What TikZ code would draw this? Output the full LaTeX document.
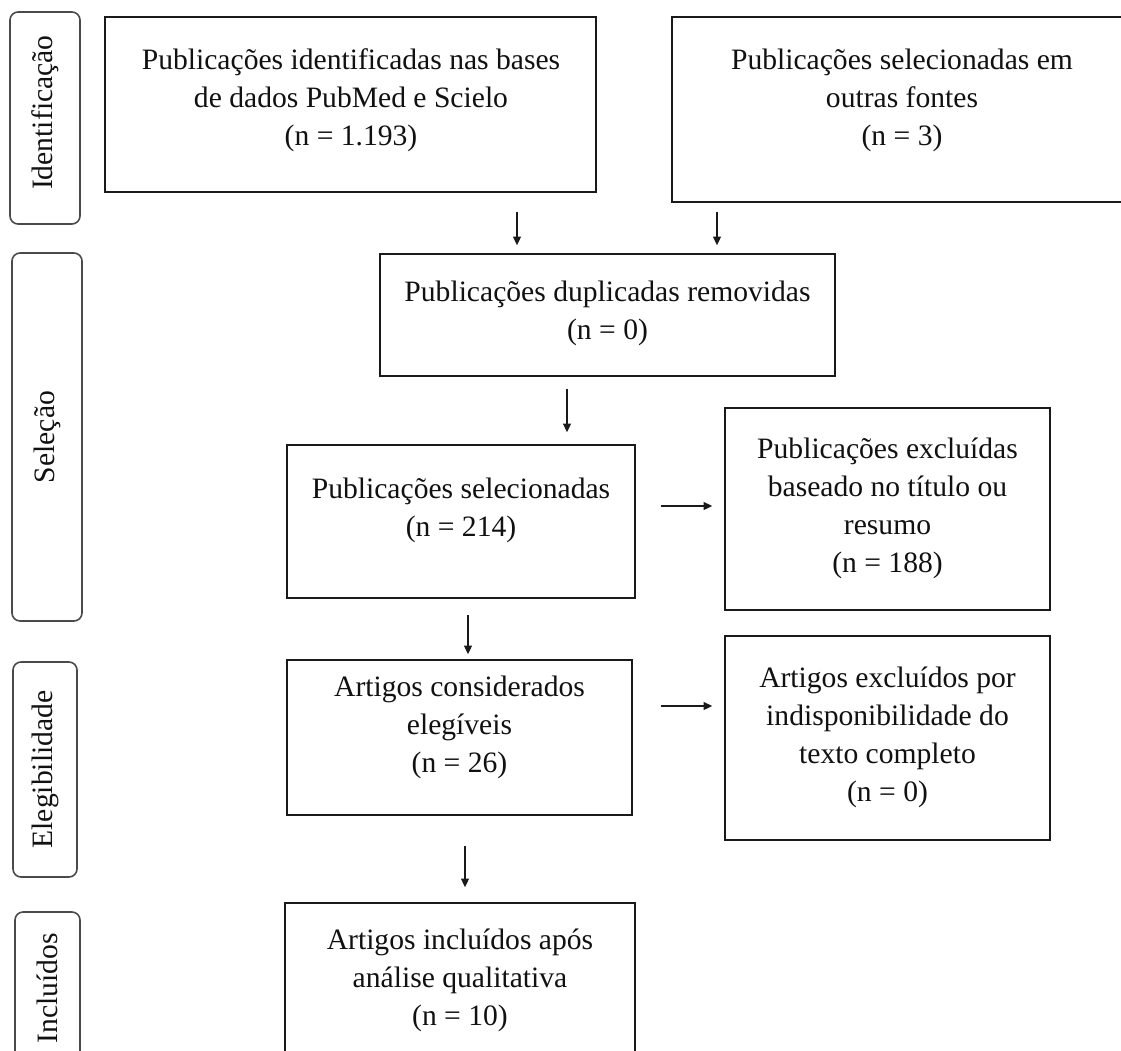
\documentclass[tikz,border=0pt]{standalone}
\usepackage{fontspec}
\setmainfont{Liberation Serif}
\usetikzlibrary{arrows.meta}
\definecolor{boxline}{HTML}{1A1A1A}
\definecolor{sideline}{HTML}{4A4A4A}
\definecolor{txtcol}{HTML}{111111}
\tikzset{
  box/.style={draw=boxline, line width=1.2pt, rectangle, inner sep=0pt},
  sidebox/.style={draw=sideline, line width=1.2pt, rectangle, rounded corners=6pt, inner sep=0pt,
     rotate=90, font=\fontsize{22.2}{28}\selectfont, text=txtcol},
  txt/.style={align=center, font=\fontsize{22.2}{28.5}\selectfont, text=txtcol, inner sep=0pt},
  arr/.style={draw=boxline, line width=1.0pt, -{Triangle[length=6.5pt,width=6pt]}}
}
\begin{document}
\begin{tikzpicture}[x=0.75pt,y=-0.75pt]
\useasboundingbox (0,0) rectangle (1121,1050);
\clip (0,0) rectangle (1121,1050);
\fill[white] (0,0) rectangle (1121,1050);

% side labels
\node[sidebox, minimum width=159pt, minimum height=52.5pt] (s1) at (45,118) {\hspace*{8pt}Identificação};
\node[sidebox, minimum width=276pt, minimum height=52.5pt] (s2) at (47,437) {Seleção};
\node[sidebox, minimum width=161.25pt, minimum height=48pt] (s3) at (45,769.5) {Elegibilidade};
\node[sidebox, minimum width=126pt, minimum height=48.75pt] (s4) at (47.5,996) {\hspace*{12pt}Incluídos};

% boxes
\node[box, minimum width=368.25pt, minimum height=131.25pt] (b1) at (350.5,104.5) {};
\node[box, minimum width=345pt, minimum height=138.75pt] (b2) at (902,109.5) {};
\node[box, minimum width=341.25pt, minimum height=91.5pt] (b3) at (607.5,315) {};
\node[box, minimum width=261pt, minimum height=114.75pt] (b4) at (461,521.5) {};
\node[box, minimum width=243.75pt, minimum height=151.5pt] (b5) at (887.5,509) {};
\node[box, minimum width=258.75pt, minimum height=116.25pt] (b6) at (459.5,737.5) {};
\node[box, minimum width=243.75pt, minimum height=153pt] (b7) at (887.5,738) {};
\node[box, minimum width=262.5pt, minimum height=125.25pt] (b8) at (460,986.5) {};

% texts
\node[txt] (t1) at (351,100) {Publicações identificadas nas bases\\de dados PubMed e Scielo\\(n = 1.193)};
\node[txt] (t2) at (902,100) {Publicações selecionadas em\\outras fontes\\(n = 3)};
\node[txt] (t3) at (607.5,313.5) {Publicações duplicadas removidas\\(n = 0)};
\node[txt] (t4) at (461,510.5) {Publicações selecionadas\\(n = 214)};
\node[txt] (t5) at (887.5,508.5) {Publicações excluídas\\baseado no título ou\\resumo\\(n = 188)};
\node[txt] (t6) at (459.5,727) {Artigos considerados\\elegíveis\\(n = 26)};
\node[txt] (t7) at (887.5,737.5) {Artigos excluídos por\\indisponibilidade do\\texto completo\\(n = 0)};
\node[txt] (t8) at (460,980.5) {Artigos incluídos após\\análise qualitativa\\(n = 10)};

% arrow x/y references
\coordinate (x1) at (517,0);
\coordinate (x2) at (717,0);
\coordinate (x3) at (567,0);
\coordinate (x5) at (468,0);
\coordinate (x7) at (465,0);
\coordinate (y4) at (0,506);
\coordinate (y6) at (0,706);

\draw[arr, shorten <=14.25pt, shorten >=6pt] (b1.south -| x1) -- (b3.north -| x1);
\draw[arr, shorten <=6.75pt, shorten >=6pt] (b2.south -| x2) -- (b3.north -| x2);
\draw[arr, shorten <=9pt, shorten >=9pt] (b3.south -| x3) -- (b4.north -| x3);
\draw[arr, shorten <=18.75pt, shorten >=9pt] (b4.east |- y4) -- (b5.west |- y4);
\draw[arr, shorten <=12pt, shorten >=3.75pt] (b4.south -| x5) -- (b6.north -| x5);
\draw[arr, shorten <=21pt, shorten >=9pt] (b6.east |- y6) -- (b7.west |- y6);
\draw[arr, shorten <=22.5pt, shorten >=11.25pt] (b6.south -| x7) -- (b8.north -| x7);
\end{tikzpicture}
\end{document}
